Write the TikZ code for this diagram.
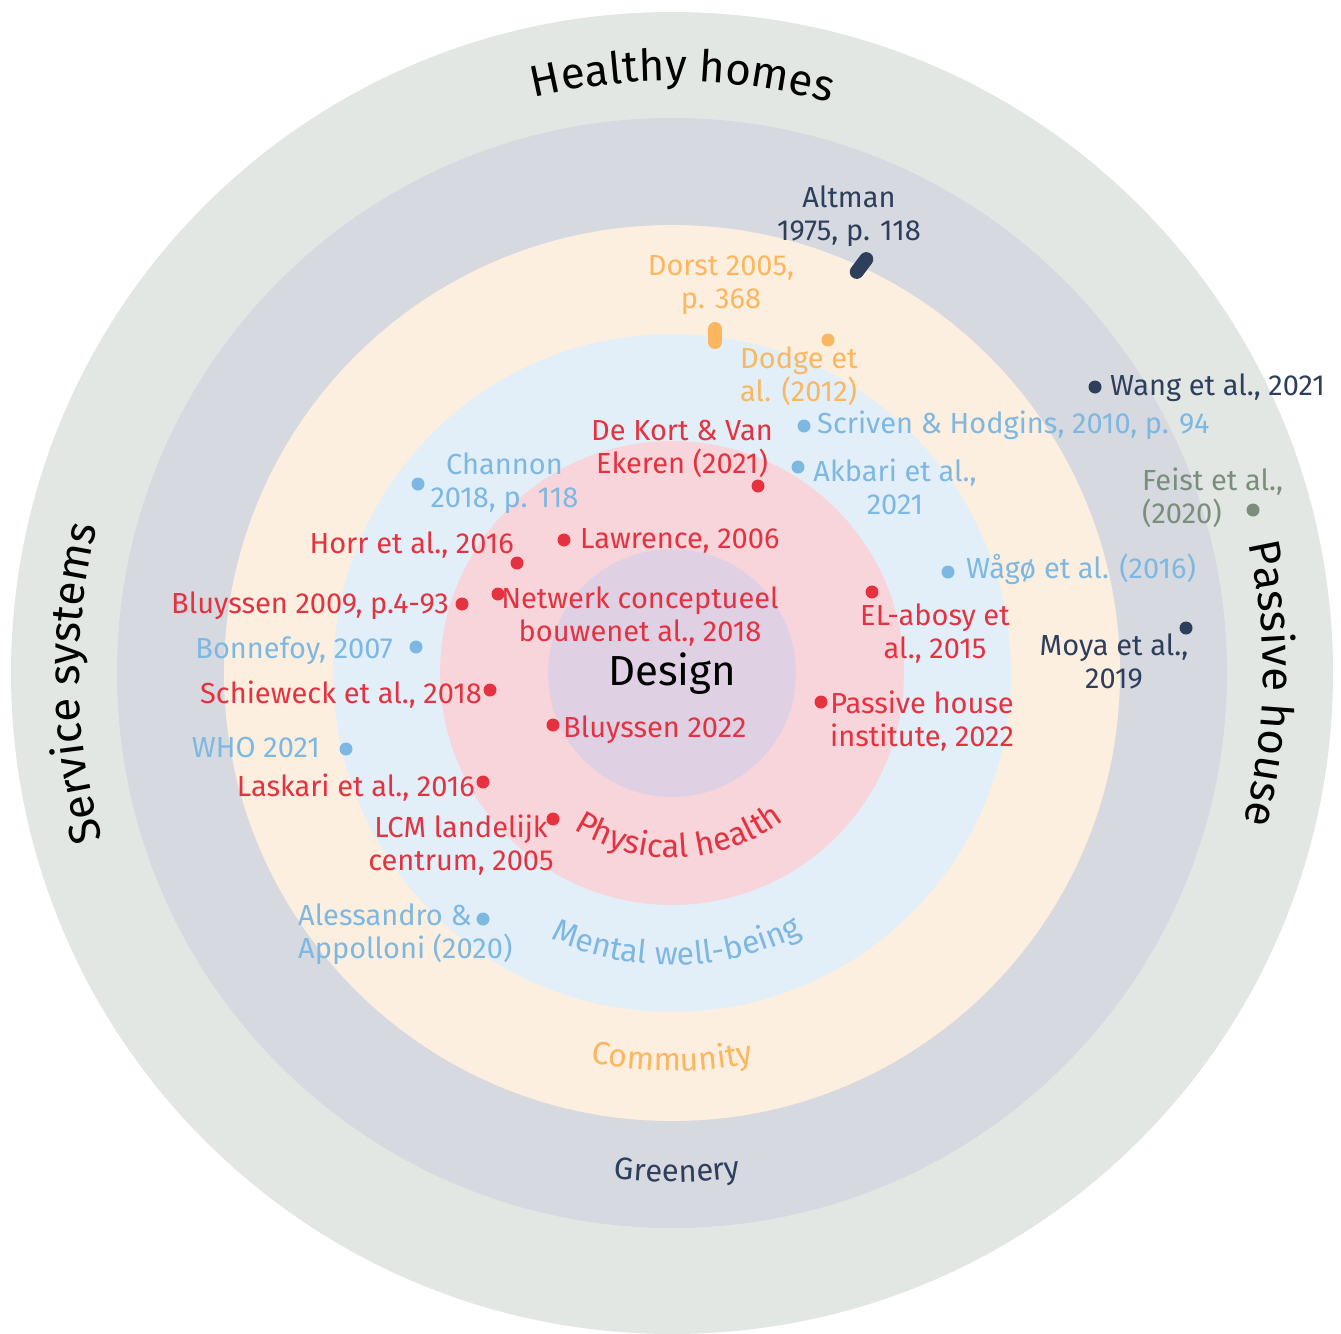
\documentclass[tikz,border=0pt]{standalone}
\usepackage{fontspec}
\setmainfont{Fira Sans}
\usetikzlibrary{decorations.text}
\definecolor{ringA}{HTML}{E3E7E4}
\definecolor{ringB}{HTML}{D6D9DF}
\definecolor{ringC}{HTML}{FDEFDF}
\definecolor{ringD}{HTML}{E2EFF8}
\definecolor{ringE}{HTML}{F8D5DA}
\definecolor{ringF}{HTML}{E0D0E4}
\definecolor{cR}{HTML}{E53240}
\definecolor{cB}{HTML}{7DB8E3}
\definecolor{cO}{HTML}{FBB760}
\definecolor{cN}{HTML}{2E3F5C}
\definecolor{cG}{HTML}{7A8E7B}
\begin{document}
\begin{tikzpicture}[x=1pt,y=-1pt,
  cite/.style={font=\fontsize{29}{33}\selectfont, inner sep=0pt, align=center},
  citeL/.style={font=\fontsize{29}{33}\selectfont, inner sep=0pt, align=left},
  dotmark/.style={circle, fill, inner sep=0pt, minimum size=13pt},
  pill/.style={line width=14pt, line cap=round},
  ringtext/.style={decorate, decoration={text along path, text align=center, text={#1}}}
]
\useasboundingbox (0,0) rectangle (1341,1333);
% rings
\fill[ringA] (672,673) circle[radius=661];
\fill[ringB] (672,673) circle[radius=555];
\fill[ringC] (672,673) circle[radius=448];
\fill[ringD] (672,673) circle[radius=339];
\fill[ringE] (672,673) circle[radius=232];
\fill[ringF] (672,673) circle[radius=124];

% curved ring labels
\begin{scope}[shift={(672,673)}, y=1pt]
\path[ringtext={|\fontsize{44}{44}\selectfont|Healthy homes}] (119:592) arc[start angle=119, end angle=59, radius=592];
\path[ringtext={|\fontsize{44}{44}\selectfont|Service systems}] (211:593) arc[start angle=211, end angle=151, radius=593];
\path[ringtext={|\fontsize{44}{44}\selectfont|Passive house}] (29:591) arc[start angle=29, end angle=-31, radius=591];
\path[ringtext={|\fontsize{31}{31}\selectfont\color{cN}|Greenery}] (-119.4:509) arc[start angle=-119.4, end angle=-59.4, radius=509];
\path[ringtext={|\fontsize{32}{32}\selectfont\color{cO}|Community}] (-125:398) arc[start angle=-125, end angle=-55, radius=398];
\path[ringtext={|\fontsize{32}{32}\selectfont\color{cB}|Mental well-being}] (-134:292) arc[start angle=-134, end angle=-44, radius=292];
\path[ringtext={|\fontsize{32.5}{32.5}\selectfont\color{cR}|Physical health}] (-142.5:185) arc[start angle=-142.5, end angle=-32.5, radius=185];
\end{scope}

\node[font=\fontsize{42}{42}\selectfont, inner sep=0pt, anchor=base] (design) at (672,685) {Design};

% navy
\node[cite, cN, anchor=base] (altman) at (849,240) {Altman\\1975, p. 118};
\draw[pill, cN] (856.7,271.9) -- (866.3,259.1);
\node[dotmark, cN] (wangdot) at (1095,387) {};
\node[cite, cN, anchor=base west] (wang) at (1110,395) {Wang et al., 2021};
\node[dotmark, cN] (moyadot) at (1186,628) {};
\node[cite, cN, anchor=base] (moya) at (1114,688) {Moya et al.,\\2019};

% green
\node[dotmark, cG] (feistdot) at (1253,510) {};
\node[citeL, cG, anchor=base west] (feist) at (1142,523) {Feist et al.,\\(2020)};

% orange
\node[cite, cO, anchor=base] (dorst) at (721,308) {Dorst 2005,\\p. 368};
\draw[pill, cO] (715,329) -- (715,342);
\node[dotmark, cO] (dodgedot) at (828,340) {};
\node[citeL, cO, anchor=base west] (dodge) at (740,401) {Dodge et\\al. (2012)};

% light blue
\node[dotmark, cB] (channondot) at (418,484) {};
\node[cite, cB, anchor=base] (channon) at (504.5,507) {Channon\\2018, p. 118};
\node[dotmark, cB] (scrivendot) at (804,426) {};
\node[cite, cB, anchor=base west] (scriven) at (817,433) {Scriven \& Hodgins, 2010, p. 94};
\node[dotmark, cB] (akbaridot) at (798,467) {};
\node[cite, cB, anchor=base] (akbari) at (895,514) {Akbari et al.,\\2021};
\node[dotmark, cB] (wagodot) at (948,572) {};
\node[cite, cB, anchor=base west] (wago) at (966,578) {Wågø et al. (2016)};
\node[dotmark, cB] (bonnefoydot) at (416,647) {};
\node[cite, cB, anchor=base east] (bonnefoy) at (393,658) {Bonnefoy, 2007};
\node[dotmark, cB] (whodot) at (346,749) {};
\node[cite, cB, anchor=base east] (who) at (320,757) {WHO 2021};
\node[dotmark, cB] (alessdot) at (483,919) {};
\node[citeL, cB, anchor=base west] (aless) at (298,958) {Alessandro \&\\Appolloni (2020)};

% red
\node[dotmark, cR] (dekortdot) at (758,486) {};
\node[cite, cR, anchor=base] (dekort) at (682,473) {De Kort \& Van\\Ekeren (2021)};
\node[dotmark, cR] (lawrencedot) at (564,540) {};
\node[cite, cR, anchor=base west] (lawrence) at (580,548) {Lawrence, 2006};
\node[dotmark, cR] (horrdot) at (517,563) {};
\node[cite, cR, anchor=base east] (horr) at (514,553) {Horr et al., 2016};
\node[dotmark, cR] (bluy09dot) at (462,604) {};
\node[cite, cR, anchor=base east] (bluy09) at (449,613) {Bluyssen 2009, p.4-93};
\node[dotmark, cR] (netwerkdot) at (498,594) {};
\node[cite, cR, anchor=base] (netwerk) at (640,641) {Netwerk conceptueel\\bouwenet al., 2018};
\node[dotmark, cR] (elabosydot) at (872,592) {};
\node[cite, cR, anchor=base] (elabosy) at (935,658) {EL-abosy et\\al., 2015};
\node[dotmark, cR] (schiewdot) at (490,690) {};
\node[cite, cR, anchor=base east] (schiew) at (482,703) {Schieweck et al., 2018};
\node[dotmark, cR] (phidot) at (821,702) {};
\node[cite, cR, anchor=base] (phi) at (922,746) {Passive house\\institute, 2022};
\node[dotmark, cR] (bluy22dot) at (553,725) {};
\node[cite, cR, anchor=base west] (bluy22) at (563,737) {Bluyssen 2022};
\node[dotmark, cR] (laskaridot) at (483,782) {};
\node[cite, cR, anchor=base east] (laskari) at (475,796) {Laskari et al., 2016};
\node[dotmark, cR] (lcmdot) at (553,819) {};
\node[cite, cR, anchor=base] (lcm) at (461,870) {LCM landelijk\\centrum, 2005};
\end{tikzpicture}
\end{document}
